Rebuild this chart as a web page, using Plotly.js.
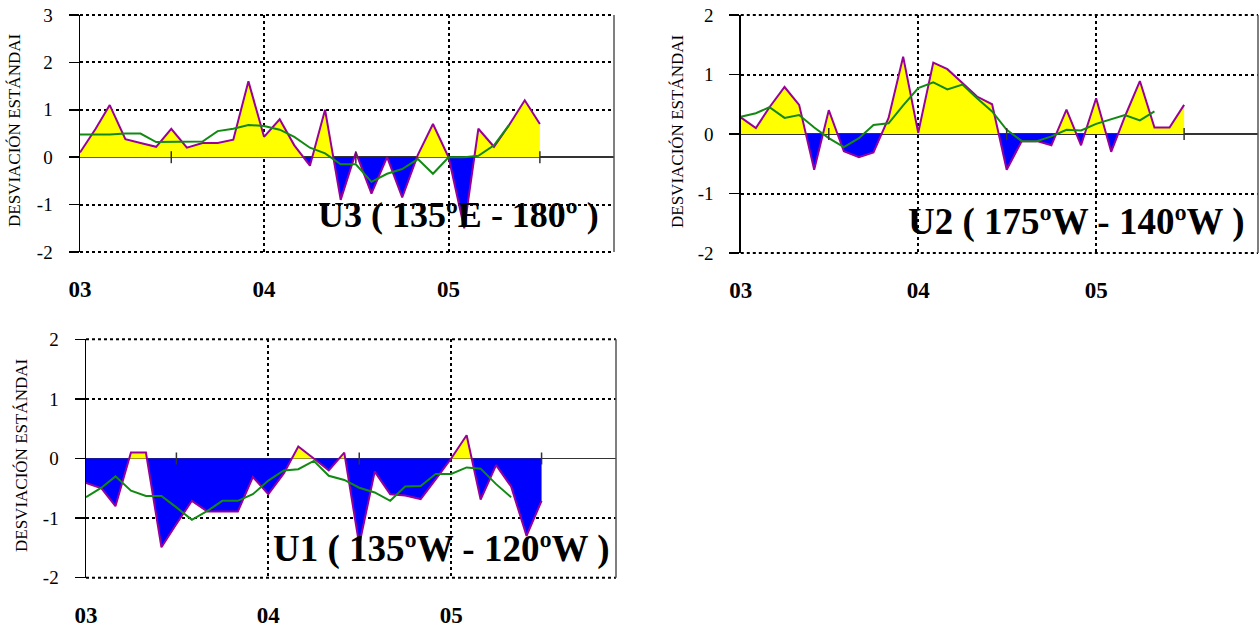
<!DOCTYPE html>
<html><head><meta charset="utf-8">
<script src="https://cdn.plot.ly/plotly-3.0.1.min.js"></script>
<style>html,body{margin:0;padding:0;background:#fff;} #chart{width:1260px;height:632px;}</style>
</head><body><div id="chart"></div>
<script>
// ---- data ----
const MONTHS = ['2003-01','2003-02','2003-03','2003-04','2003-05','2003-06','2003-07','2003-08','2003-09','2003-10','2003-11','2003-12',
  '2004-01','2004-02','2004-03','2004-04','2004-05','2004-06','2004-07','2004-08','2004-09','2004-10','2004-11','2004-12',
  '2005-01','2005-02','2005-03','2005-04','2005-05','2005-06','2005-07'];
const TICK_VALUES = ['2003-01-01','2004-01-01','2005-01-01'];
const TICK_LABELS = ['03','04','05'];
const HALF_YEAR_TICKS = ['2003-07-01','2004-07-01','2005-07-01'];
const Y_TICKS_U3 = [-2, -1, 0, 1, 2, 3];
const Y_TICK_LABELS_U3 = ['-2', '-1', '0', '1', '2', '3'];
const Y_TICKS = [-2, -1, 0, 1, 2];
const Y_TICK_LABELS = ['-2', '-1', '0', '1', '2'];

const U3_INDEX = [0.1, 0.6, 1.1, 0.38, 0.3, 0.22, 0.6, 0.2, 0.3, 0.3, 0.37, 1.6, 0.43, 0.8, 0.25, -0.18,
  1.0, -0.9, 0.1, -0.77, 0.0, -0.85, 0.05, 0.7, 0.0, -1.5, 0.6, 0.22, 0.68, 1.2, 0.7];
const U3_MEAN = [0.48, 0.48, 0.48, 0.5, 0.5, 0.32, 0.32, 0.32, 0.33, 0.55, 0.6, 0.68, 0.66, 0.58, 0.43,
  0.2, 0.08, -0.15, -0.15, -0.52, -0.35, -0.25, -0.04, -0.35, 0.0, 0.0, 0.03, 0.25, 0.68];

const U2_INDEX = [0.28, 0.1, 0.45, 0.79, 0.49, -0.6, 0.4, -0.29, -0.39, -0.31, 0.27, 1.3, 0.02, 1.2, 1.09,
  0.86, 0.63, 0.5, -0.6, -0.12, -0.12, -0.19, 0.41, -0.19, 0.6, -0.3, 0.29, 0.89, 0.11, 0.11, 0.49];
const U2_MEAN = [0.29, 0.35, 0.45, 0.27, 0.32, 0.11, -0.07, -0.22, -0.07, 0.15, 0.18, 0.48, 0.77, 0.87,
  0.75, 0.83, 0.6, 0.38, 0.07, -0.12, -0.12, -0.04, 0.07, 0.06, 0.17, 0.25, 0.32, 0.23, 0.38];

const U1_INDEX = [-0.41, -0.5, -0.8, 0.1, 0.1, -1.49, -1.1, -0.71, -0.89, -0.89, -0.89, -0.31, -0.6, -0.25,
  0.2, 0.0, -0.2, 0.1, -1.45, -0.22, -0.6, -0.62, -0.68, -0.35, 0.0, 0.39, -0.69, -0.11, -0.47, -1.3, -0.71];
const U1_MEAN = [-0.65, -0.49, -0.3, -0.54, -0.63, -0.63, -0.82, -1.03, -0.88, -0.71, -0.71, -0.6, -0.37,
  -0.2, -0.18, -0.04, -0.29, -0.36, -0.49, -0.57, -0.71, -0.47, -0.46, -0.26, -0.26, -0.15, -0.17, -0.43, -0.65];

const PANEL_TITLES = ['U3 ( 135ºE - 180º )', 'U2 ( 175ºW - 140ºW )', 'U1 ( 135ºW - 120ºW )'];
const Y_TITLE = 'DESVIACIÓN ESTÁNDAI';

// ---- build ----
const SERIF = 'Liberation Serif, Times New Roman, serif';
const toMs = d => Date.UTC(+d.slice(0,4), +d.slice(5,7) - 1, 1);

function splitAtZero(dates, vals) {
  const t = dates.map(toMs);
  const xs = [], ys = [];
  for (let i = 0; i < vals.length; i++) {
    if (i > 0) {
      const a = vals[i-1], b = vals[i];
      if ((a > 0 && b < 0) || (a < 0 && b > 0)) {
        const f = a / (a - b);
        xs.push(t[i-1] + f * (t[i] - t[i-1])); ys.push(0);
      }
    }
    xs.push(t[i]); ys.push(vals[i]);
  }
  return {xs, ys};
}

const panels = [
  {idx: U3_INDEX, mean: U3_MEAN, xa: 'x', ya: 'y'},
  {idx: U2_INDEX, mean: U2_MEAN, xa: 'x2', ya: 'y2'},
  {idx: U1_INDEX, mean: U1_MEAN, xa: 'x3', ya: 'y3'}
];

const traces = [];
panels.forEach(p => {
  const s = splitAtZero(MONTHS, p.idx);
  traces.push({x: s.xs, y: s.ys.map(v => Math.max(v, 0)), xaxis: p.xa, yaxis: p.ya, mode: 'lines',
    fill: 'tozeroy', fillcolor: '#FFFF00', line: {width: 0, color: '#FFFF00'}, hoverinfo: 'skip'});
  traces.push({x: s.xs, y: s.ys.map(v => Math.min(v, 0)), xaxis: p.xa, yaxis: p.ya, mode: 'lines',
    fill: 'tozeroy', fillcolor: '#0000FF', line: {width: 0, color: '#0000FF'}, hoverinfo: 'skip'});
  traces.push({x: MONTHS, y: p.idx, xaxis: p.xa, yaxis: p.ya, mode: 'lines',
    line: {color: '#990099', width: 2}});
  traces.push({x: MONTHS.slice(0, p.mean.length), y: p.mean, xaxis: p.xa, yaxis: p.ya, mode: 'lines',
    line: {color: '#128A12', width: 2}});
});

const xAxis = (dom, end, anchor) => ({
  domain: dom, anchor: anchor, type: 'date', range: ['2003-01-01', end],
  tickmode: 'array', tickvals: TICK_VALUES, ticktext: TICK_LABELS,
  showgrid: true, gridcolor: '#000', gridwidth: 2, griddash: 'dot',
  zeroline: false, showline: false, ticks: '',
  tickfont: {family: SERIF, size: 23, color: '#000', weight: 'bold'},
  ticklabelstandoff: 21, fixedrange: true
});
const yAxis = (dom, rng, anchor, tv, tt) => ({
  domain: dom, anchor: anchor, range: rng, tickmode: 'array', tickvals: tv, ticktext: tt,
  showgrid: true, gridcolor: '#000', gridwidth: 2, griddash: 'dot',
  zeroline: true, zerolinecolor: '#333', zerolinewidth: 1.5,
  showline: true, mirror: false, linecolor: '#000', linewidth: 1.5,
  ticks: 'outside', ticklen: 10, tickwidth: 1.5, tickcolor: '#000',
  tickfont: {family: SERIF, size: 19, color: '#000'}, ticklabelstandoff: 12, fixedrange: true
});

const shapes = [];
panels.forEach(p => {
  HALF_YEAR_TICKS.forEach(d => shapes.push({type: 'line', xref: p.xa, yref: p.ya, x0: d, x1: d,
    ysizemode: 'pixel', yanchor: 0, y0: -6, y1: 6, line: {color: '#333', width: 1.5}}));
  // dotted frame top/bottom and solid right border
  [0, 1].forEach(e => shapes.push({type: 'line', xref: p.xa + ' domain', yref: p.ya + ' domain',
    x0: 0, x1: 1, y0: e, y1: e, layer: 'below', line: {color: '#000', width: 2, dash: 'dot'}}));
  shapes.push({type: 'line', xref: p.xa + ' domain', yref: p.ya + ' domain',
    x0: 1, x1: 1, y0: 0, y1: 1, line: {color: '#555', width: 1.5}});
});

const titleFont = {family: SERIF, size: 37, color: '#000', weight: 'bold'};
const yTitleFont = {family: SERIF, size: 17, color: '#000'};
const annotations = [
  {xref: 'x domain', yref: 'y domain', x: 0.976, y: 0.156, xanchor: 'right', yanchor: 'middle',
   text: PANEL_TITLES[0], showarrow: false, font: Object.assign({}, titleFont, {size: 36})},
  {xref: 'x2 domain', yref: 'y2 domain', x: 0.979, y: 0.13, xanchor: 'right', yanchor: 'middle',
   text: PANEL_TITLES[1], showarrow: false, font: titleFont},
  {xref: 'x3 domain', yref: 'y3 domain', x: 0.992, y: 0.12, xanchor: 'right', yanchor: 'middle',
   text: PANEL_TITLES[2], showarrow: false, font: titleFont},
  {xref: 'paper', yref: 'paper', x: 14/1260, y: 1 - 131/632, xanchor: 'center', yanchor: 'middle', textangle: -90,
   text: Y_TITLE, showarrow: false, font: yTitleFont},
  {xref: 'paper', yref: 'paper', x: 677/1260, y: 1 - 132/632, xanchor: 'center', yanchor: 'middle', textangle: -90,
   text: Y_TITLE, showarrow: false, font: yTitleFont},
  {xref: 'paper', yref: 'paper', x: 21/1260, y: 1 - 456/632, xanchor: 'center', yanchor: 'middle', textangle: -90,
   text: Y_TITLE, showarrow: false, font: yTitleFont}
];

const layout = {
  width: 1260, height: 632, margin: {l: 0, r: 0, t: 0, b: 0},
  paper_bgcolor: '#fff', plot_bgcolor: '#fff', showlegend: false,
  xaxis: xAxis([80/1260, 614/1260], '2005-11-25', 'y'),
  yaxis: yAxis([1 - 252/632, 1 - 15/632], [-2, 3], 'x', Y_TICKS_U3, Y_TICK_LABELS_U3),
  xaxis2: xAxis([740.8/1260, 1258/1260], '2005-11-30', 'y2'),
  yaxis2: yAxis([1 - 253/632, 1 - 15/632], [-2, 2], 'x2', Y_TICKS, Y_TICK_LABELS),
  xaxis3: xAxis([86/1260, 616/1260], '2005-11-27', 'y3'),
  yaxis3: yAxis([1 - 577.7/632, 1 - 339.3/632], [-2, 2], 'x3', Y_TICKS, Y_TICK_LABELS),
  shapes: shapes, annotations: annotations
};

Plotly.newPlot('chart', traces, layout, {staticPlot: true, displayModeBar: false});
</script>
</body></html>
